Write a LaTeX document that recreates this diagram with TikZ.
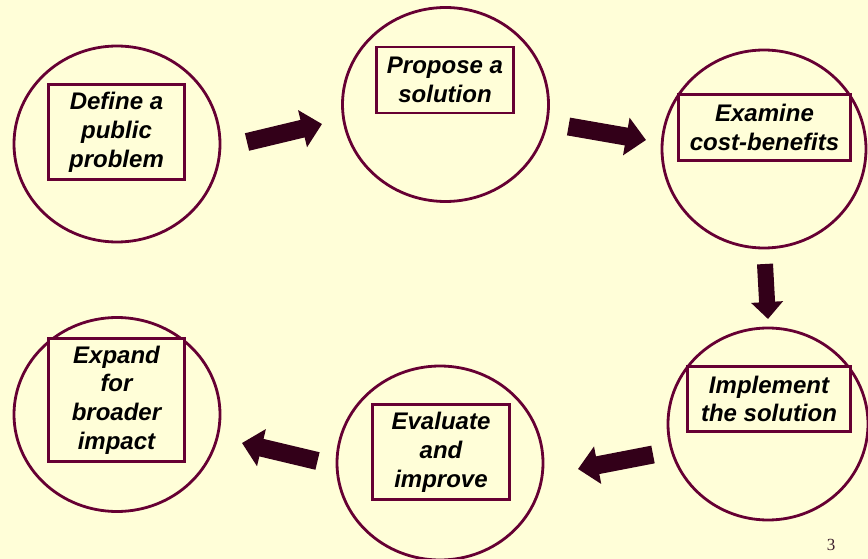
\documentclass[tikz,border=0pt]{standalone}
\usepackage{fontspec}
\setmainfont{Liberation Sans}
\newfontfamily\pagefont{Liberation Serif}
\usetikzlibrary{shapes.geometric,arrows.meta}
\definecolor{bgyellow}{RGB}{255,254,216}
\definecolor{ringred}{RGB}{102,0,51}
\definecolor{arrowdark}{RGB}{51,0,25}
\definecolor{pagegray}{RGB}{60,30,45}
\tikzset{
  ring/.style={draw=ringred, line width=2.8pt, ellipse, inner sep=0pt},
  textbox/.style={draw=ringred, fill=bgyellow, line width=2.8pt, rectangle, inner sep=0pt,
    align=center, font=\fontsize{24}{28.8}\selectfont\bfseries\itshape, text=black},
  bigarrow/.style={draw=arrowdark, line width=18pt, -{Triangle[length=20pt,width=37pt]}},
}
\begin{document}
\begin{tikzpicture}[x=1pt,y=-1pt]
\fill[bgyellow] (0,0) rectangle (868,559);
\useasboundingbox (0,0) rectangle (868,559);
% circles
\node[ring, minimum width=206pt, minimum height=196pt] (c1) at (117,144) {};
\node[ring, minimum width=206pt, minimum height=194pt] (c2) at (445.5,104.5) {};
\node[ring, minimum width=204pt, minimum height=198pt] (c3) at (764,149) {};
\node[ring, minimum width=200pt, minimum height=192pt] (c4) at (768,424) {};
\node[ring, minimum width=206pt, minimum height=194pt] (c5) at (440,463) {};
\node[ring, minimum width=206pt, minimum height=194pt] (c6) at (117,414.5) {};
% boxes
\node[textbox, minimum width=136pt, minimum height=95pt] (b1) at (116.5,132) {Define a\\public\\problem};
\node[textbox, minimum width=137pt, minimum height=66pt] (b2) at (445,80) {Propose a\\solution};
\node[textbox, minimum width=172pt, minimum height=66pt] (b3) at (764.5,127.5) {Examine\\cost-benefits};
\node[textbox, minimum width=163pt, minimum height=65pt] (b4) at (769,399) {Implement\\the solution};
\node[textbox, minimum width=137pt, minimum height=95pt] (b5) at (441,452) {Evaluate\\and\\improve};
\node[textbox, minimum width=136pt, minimum height=123pt] (b6) at (116.5,400) {Expand\\for\\broader\\impact};
% arrows
\coordinate (a1s) at (247,142);
\coordinate (a1e) at (322,124);
\coordinate (a2s) at (568.5,126.5);
\coordinate (a2e) at (646,140);
\coordinate (a3s) at (765,264);
\coordinate (a3e) at (768,319);
\coordinate (a4s) at (653,454.5);
\coordinate (a4e) at (578,469);
\coordinate (a5s) at (317.5,461);
\coordinate (a5e) at (242,443);
\draw[bigarrow] (a1s) -- (a1e);
\draw[bigarrow] (a2s) -- (a2e);
\draw[draw=arrowdark, line width=16pt, -{Triangle[length=17pt,width=31pt]}] (a3s) -- (a3e);
\draw[bigarrow] (a4s) -- (a4e);
\draw[bigarrow] (a5s) -- (a5e);
% page number
\node[font=\pagefont\fontsize{17}{19}\selectfont, text=pagegray, inner sep=0pt] (pg) at (831,545) {3};
\end{tikzpicture}
\end{document}
